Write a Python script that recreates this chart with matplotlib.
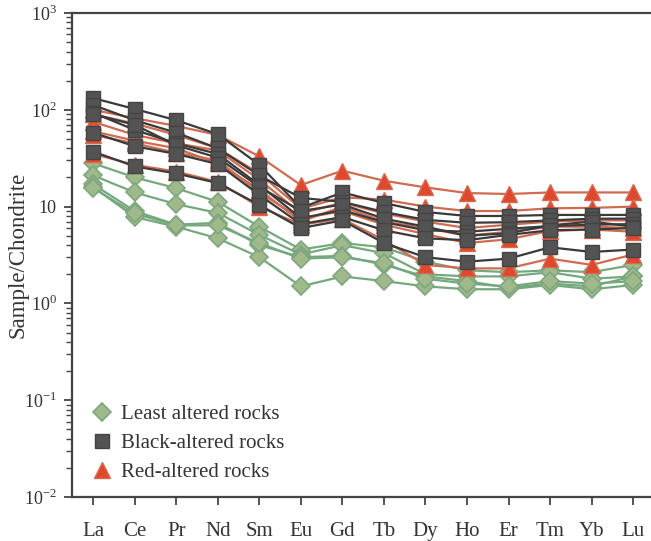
import matplotlib
matplotlib.use("Agg")
from matplotlib import pyplot as plt
from matplotlib.lines import Line2D
from matplotlib.ticker import FixedLocator, LogLocator, NullFormatter

plt.rcParams['font.family'] = ['Liberation Serif', 'DejaVu Serif']
plt.rcParams['mathtext.fontset'] = 'custom'
plt.rcParams['mathtext.rm'] = 'Liberation Serif'

elements = ['La', 'Ce', 'Pr', 'Nd', 'Sm', 'Eu', 'Gd', 'Tb', 'Dy', 'Ho', 'Er', 'Tm', 'Yb', 'Lu']

least = [
    [28, 20, 15.5, 11.2, 6.2, 3.6, 4.2, 3.8, 2.7, 2.2, 2.1, 2.2, 2.1, 2.5],
    [21, 14, 10.6, 8.6, 5.1, 3.2, 4.0, 3.3, 2.0, 1.9, 1.9, 2.1, 1.8, 1.9],
    [17, 9.0, 6.5, 6.8, 4.0, 3.0, 3.1, 2.5, 1.9, 1.7, 1.45, 1.6, 1.5, 1.9],
    [16, 7.8, 6.2, 4.7, 3.0, 1.5, 1.9, 1.7, 1.5, 1.4, 1.4, 1.55, 1.4, 1.55],
    [15.5, 8.5, 6.4, 6.4, 4.2, 2.9, 3.0, 2.6, 1.8, 1.6, 1.5, 1.7, 1.6, 1.7],
]

black = [
    [132, 102, 78, 56, 27, 9.7, 14, 10.9, 8.8, 8.0, 8.0, 8.2, 8.2, 8.2],
    [112, 78, 58, 40, 21, 12.3, 11.2, 8.8, 7.3, 6.8, 6.9, 7.2, 7.5, 7.5],
    [93, 62, 45, 35, 16.7, 7.6, 9.2, 6.9, 5.7, 5.5, 5.9, 6.3, 6.5, 6.6],
    [90, 70, 43, 32, 16.0, 9.0, 10.5, 7.5, 6.2, 5.0, 5.3, 6.4, 7.0, 6.2],
    [58, 42, 35, 27.5, 13.2, 6.6, 7.8, 5.7, 4.7, 4.5, 5.1, 5.7, 5.8, 6.0],
    [37, 26, 22, 17.5, 10.4, 6.0, 7.2, 4.2, 3.0, 2.7, 2.9, 3.8, 3.4, 3.6],
]

red = [
    [100, 82, 68, 55, 33, 16.7, 23.5, 18.5, 15.8, 13.8, 13.5, 14, 14, 14],
    [90, 72, 55, 40, 22, 9.5, 12.5, 11.8, 10, 9, 9, 9.6, 9.7, 10],
    [75, 55, 45, 38, 19, 8.5, 11, 8.5, 7, 6, 6.5, 7, 7.2, 7.2],
    [60, 48, 40, 28, 15, 7.0, 10, 7, 6, 5, 5.5, 6.2, 6.2, 6.0],
    [55, 45, 36, 30, 14, 7.5, 9, 6.5, 5.2, 4.2, 4.6, 5.6, 5.8, 5.5],
    [35, 27, 23, 18, 10, 6.5, 7.5, 4.5, 2.5, 2.3, 2.3, 2.9, 2.5, 3.2],
]

x = list(range(len(elements)))

fig = plt.figure(figsize=(6.51, 5.41), dpi=100)
ax = fig.add_axes([72 / 651, 1 - 497 / 541, 1 - 72 / 651, (497 - 13) / 541])

green_kw = dict(color='#76a87e', lw=1.6, marker='D', ms=9, mfc='#9fb98a', mec='#7fa77f', mew=1.2)
red_kw = dict(color='#cf6b50', lw=1.6, marker='^', ms=11.5, mfc='#e0482e', mec='#d46a50', mew=1.0)
black_kw = dict(color='#3a3a3a', lw=1.6, marker='s', ms=10, mfc='#535353', mec='#444444', mew=1.0)

for row in least:
    ax.plot(x, row, **green_kw)
for row in red:
    ax.plot(x, row, **red_kw)
for row in black:
    ax.plot(x, row, **black_kw)

ax.set_yscale('log')
ax.set_ylim(1e-2, 1e3)
ax.set_xlim(-0.51, 13.43)
ax.set_xticks(x)
ax.set_xticklabels(elements, fontsize=15, color='#333333')
ax.yaxis.set_major_locator(FixedLocator([1e-2, 1e-1, 1, 10, 100, 1000]))
ax.set_yticklabels(['$10^{-2}$', '$10^{-1}$', '$10^{0}$', '10', '$10^{2}$', '$10^{3}$'],
                   fontsize=13, color='#333333')
ax.yaxis.set_minor_locator(LogLocator(base=10, subs=range(2, 10)))
ax.yaxis.set_minor_formatter(NullFormatter())
ax.tick_params(axis='both', which='major', direction='out', length=6, width=1.3, color='#444444')
ax.tick_params(axis='y', which='minor', direction='out', length=4, width=1.0, color='#444444')
ax.tick_params(axis='x', pad=12)
ax.tick_params(axis='y', which='major', pad=5)
ax.set_ylabel('Sample/Chondrite', fontsize=16.5, color='#333333')
ax.yaxis.set_label_coords(-0.075, 0.5)

for s in ['left', 'bottom', 'top']:
    ax.spines[s].set_linewidth(1.6)
    ax.spines[s].set_color('#444444')
ax.spines['right'].set_visible(False)

handles = [
    Line2D([], [], ls='none', marker='D', ms=9, mfc='#9fb98a', mec='#7fa77f', mew=1.2),
    Line2D([], [], ls='none', marker='s', ms=10, mfc='#535353', mec='#444444', mew=1.0),
    Line2D([], [], ls='none', marker='^', ms=11.5, mfc='#e0482e', mec='#d46a50', mew=1.0),
]
ax.legend(handles, ['Least altered rocks', 'Black-altered rocks', 'Red-altered rocks'],
          loc='upper left', bbox_to_anchor=(0.0, 0.23), frameon=False, fontsize=15,
          handlelength=1.1, handletextpad=0.35, labelspacing=0.45, labelcolor='#333333')

plt.savefig('out.png', dpi=100)
